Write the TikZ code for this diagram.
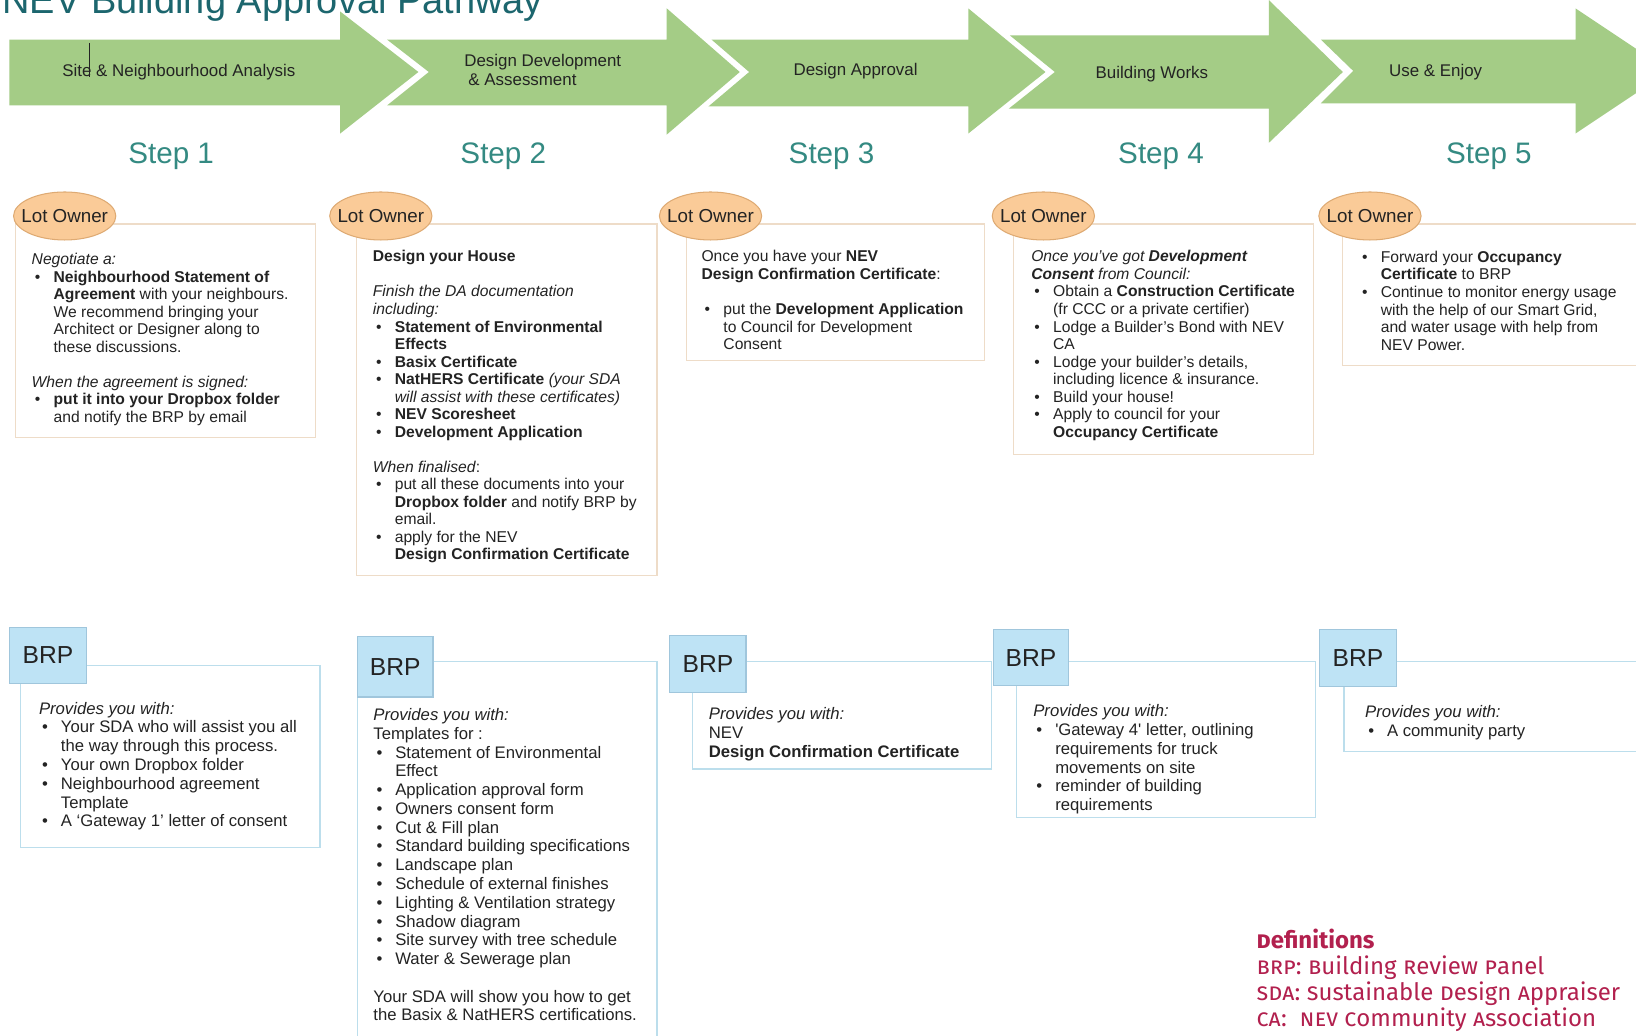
\documentclass[tikz,border=0pt]{standalone}
\usepackage{fontspec}
\setmainfont{Liberation Sans}
\newfontfamily\deffont[Letters=UppercaseSmallCaps]{Fira Sans}
\usetikzlibrary{shapes.geometric}
\definecolor{agreen}{RGB}{164,204,134}
\definecolor{titleteal}{RGB}{28,102,110}
\definecolor{stepteal}{RGB}{52,138,130}
\definecolor{txt}{RGB}{35,35,35}
\definecolor{loborder}{RGB}{238,220,200}
\definecolor{ellfill}{RGB}{250,203,152}
\definecolor{elldraw}{RGB}{222,170,115}
\definecolor{brpfill}{RGB}{190,227,245}
\definecolor{brpdraw}{RGB}{160,198,220}
\definecolor{brpborder}{RGB}{188,222,236}
\definecolor{defred}{RGB}{178,32,78}
\newcommand{\bul}[1]{\par\hangindent=10.5pt\hangafter=1\noindent\hbox to 10.5pt{\hspace{1.5pt}\textbullet\hss}#1\par}
\newcommand{\blankline}{\par\vspace{\baselineskip}}
\newcommand{\lotxt}[1]{\begin{minipage}[t]{170pt}\fontsize{7.5pt}{8.4pt}\selectfont\setlength{\rightskip}{0pt plus 1fil}#1\end{minipage}}
\newcommand{\brptxt}[1]{\begin{minipage}[t]{170pt}\fontsize{8pt}{9pt}\selectfont\setlength{\rightskip}{0pt plus 1fil}#1\end{minipage}}
\begin{document}
\begin{tikzpicture}[x=0.5pt,y=-0.5pt,
  arrowshape/.style={fill=agreen},
  arrlbl/.style={anchor=base, inner sep=0, text=txt, font=\fontsize{8.1pt}{8.75pt}\selectfont},
  steplbl/.style={anchor=base, inner sep=0, text=stepteal, font=\fontsize{14.2pt}{16pt}\selectfont},
  lobox/.style={rectangle, draw=loborder, line width=0.6pt, fill=white, inner sep=0, anchor=north west},
  brpbox/.style={rectangle, draw=brpborder, line width=0.6pt, fill=white, inner sep=0, anchor=north west},
  lotag/.style={ellipse, draw=elldraw, fill=ellfill, line width=0.5pt, minimum width=49pt, minimum height=23pt, inner sep=0},
  lotagtxt/.style={anchor=base, inner sep=0, text=txt, font=\fontsize{9pt}{10pt}\selectfont},
  brptag/.style={rectangle, draw=brpdraw, fill=brpfill, line width=0.5pt, inner sep=0, anchor=north west, text=txt, font=\fontsize{11.8pt}{14pt}\selectfont},
  boxtext/.style={anchor=base west, inner sep=0, text=txt}
]
\useasboundingbox (0,0) rectangle (1568,992);
\clip (0,0) rectangle (1568,992);
\fill[white] (0,0) rectangle (1568,992);

% title
\node[anchor=base west, inner sep=0, text=titleteal, font=\fontsize{18.2pt}{20pt}\selectfont] (title) at (2,13) {NEV Building Approval Pathway};

% arrows
\fill[arrowshape] (9,38) -- (326,38) -- (326,11) -- (401,69) -- (326,128) -- (326,101) -- (9,101) -- cycle;
\fill[arrowshape] (371,38) -- (639,38) -- (639,8) -- (709,69) -- (639,129) -- (639,101) -- (371,101) -- (411,69) -- cycle;
\fill[arrowshape] (682,38) -- (928,38) -- (928,8) -- (1002,69) -- (928,128) -- (928,102) -- (679,102) -- (718,69) -- cycle;
\fill[arrowshape] (968,34) -- (1216,34) -- (1216,0) -- (1287,69) -- (1216,137) -- (1216,104) -- (967,104) -- (1011,69) -- cycle;
\fill[arrowshape] (1266,38) -- (1510,38) -- (1510,8) -- (1600,68) -- (1510,128) -- (1510,99) -- (1266,99) -- (1297,68) -- cycle;

\node[arrlbl] (a1) at (171.5,73.5) {Site \& Neighbourhood Analysis};
\node[arrlbl, anchor=base west] (a2) at (444.6,64) {\begin{minipage}[t]{100pt}\fontsize{8.1pt}{8.75pt}\selectfont Design Development\\\hspace*{2pt}\& Assessment\end{minipage}};
\node[arrlbl] (a3) at (820,72.8) {Design Approval};
\node[arrlbl] (a4) at (1104,75) {Building Works};
\node[arrlbl] (a5) at (1376,73.5) {Use \& Enjoy};
\coordinate (cursorTop) at (85.6,41);
\coordinate (cursorBot) at (85.6,74);
\draw[txt, line width=0.5pt] (cursorTop) -- (cursorBot);

% steps
\node[steplbl] (s1) at (164,156.5) {Step 1};
\node[steplbl] (s2) at (482.4,156.5) {Step 2};
\node[steplbl] (s3) at (797,156.5) {Step 3};
\node[steplbl] (s4) at (1112.8,156.5) {Step 4};
\node[steplbl] (s5) at (1427,156.5) {Step 5};

% Lot owner boxes
\node[lobox, minimum width=144pt, minimum height=102.5pt] (lo1) at (14,214) {};
\node[lobox, minimum width=144pt, minimum height=168.5pt] (lo2) at (341,214) {};
\node[lobox, minimum width=143pt, minimum height=65.5pt] (lo3) at (657,214) {};
\node[lobox, minimum width=143.5pt, minimum height=110.5pt] (lo4) at (971,214) {};
\node[lobox, minimum width=157pt, minimum height=68pt] (lo5) at (1286,214) {};

\foreach \i/\x in {1/62,2/365,3/681,4/1000,5/1313}{
  \node[lotag] (e\i) at (\x,207) {};
  \node[lotagtxt] (et\i) at (\x,213) {Lot Owner};
}

\node[boxtext] (lt1) at (30,253.5) {\lotxt{%
\textit{Negotiate a:}
\bul{\textbf{Neighbourhood Statement of}\\\textbf{Agreement} with your neighbours.\\We recommend bringing your\\Architect or Designer along to\\these discussions.}
\blankline
\textit{When the agreement is signed:}
\bul{\textbf{put it into your Dropbox folder}\\and notify the BRP by email}}};

\node[boxtext] (lt2) at (357,251) {\lotxt{%
\textbf{Design your House}
\blankline
\textit{Finish the DA documentation\\including:}
\bul{\textbf{Statement of Environmental\\Effects}}
\bul{\textbf{Basix Certificate}}
\bul{\textbf{NatHERS Certificate} \textit{(your SDA\\will assist with these certificates)}}
\bul{\textbf{NEV Scoresheet}}
\bul{\textbf{Development Application}}
\blankline
\textit{When finalised}:
\bul{put all these documents into your\\\textbf{Dropbox folder} and notify BRP by\\email.}
\bul{apply for the NEV\\\textbf{Design Confirmation Certificate}}}};

\node[boxtext] (lt3) at (672,251) {\lotxt{%
Once you have your \textbf{NEV}\\\textbf{Design Confirmation Certificate}:
\blankline
\bul{put the \textbf{Development Application}\\to Council for Development\\Consent}}};

\node[boxtext] (lt4) at (988,251) {\lotxt{%
\textit{Once you've got \textbf{Development}\\\textbf{Consent} from Council:}
\bul{Obtain a \textbf{Construction Certificate}\\(fr CCC or a private certifier)}
\bul{Lodge a Builder's Bond with NEV\\CA}
\bul{Lodge your builder's details,\\including licence \& insurance.}
\bul{Build your house!}
\bul{Apply to council for your\\\textbf{Occupancy Certificate}}}};

\node[boxtext] (lt5) at (1302,251.5) {\lotxt{%
\bul{Forward your \textbf{Occupancy}\\\textbf{Certificate} to BRP}
\bul{Continue to monitor energy usage\\with the help of our Smart Grid,\\and water usage with help from\\NEV Power.}}};

% BRP boxes
\node[brpbox, minimum width=143.5pt, minimum height=87.25pt] (bb1) at (19,637) {};
\node[brpbox, minimum width=143.5pt, minimum height=200pt] (bb2) at (342,633.5) {};
\node[brpbox, minimum width=143.5pt, minimum height=51.5pt] (bb3) at (663,633.5) {};
\node[brpbox, minimum width=143.5pt, minimum height=74.75pt] (bb4) at (973.5,633.5) {};
\node[brpbox, minimum width=160pt, minimum height=43.25pt] (bb5) at (1287.5,633.5) {};

\node[brptag, minimum width=36.5pt, minimum height=26.75pt] (bl1) at (9,601) {BRP};
\node[brptag, minimum width=36.25pt, minimum height=29pt] (bl2) at (342,609.5) {BRP};
\node[brptag, minimum width=36.5pt, minimum height=27.2pt] (bl3) at (641.5,608.6) {BRP};
\node[brptag, minimum width=36.35pt, minimum height=26.75pt] (bl4) at (951.3,603) {BRP};
\node[brptag, minimum width=36.5pt, minimum height=27.25pt] (bl5) at (1264.5,603) {BRP};

\node[boxtext] (bt1) at (37,684.5) {\brptxt{%
\textit{Provides you with:}
\bul{Your SDA who will assist you all\\the way through this process.}
\bul{Your own Dropbox folder}
\bul{Neighbourhood agreement\\Template}
\bul{A `Gateway 1' letter of consent}}};

\node[boxtext] (bt2) at (357.5,690.5) {\brptxt{%
\textit{Provides you with:}\\Templates for :
\bul{Statement of Environmental\\Effect}
\bul{Application approval form}
\bul{Owners consent form}
\bul{Cut \& Fill plan}
\bul{Standard building specifications}
\bul{Landscape plan}
\bul{Schedule of external finishes}
\bul{Lighting \& Ventilation strategy}
\bul{Shadow diagram}
\bul{Site survey with tree schedule}
\bul{Water \& Sewerage plan}
\blankline
Your SDA will show you how to get\\the Basix \& NatHERS certifications.}};

\node[boxtext] (bt3) at (679,690) {\brptxt{%
\textit{Provides you with:}\\NEV\\\textbf{Design Confirmation Certificate}}};

\node[boxtext] (bt4) at (990,687) {\brptxt{%
\textit{Provides you with:}
\bul{\textquotesingle Gateway 4\textquotesingle\ letter, outlining\\requirements for truck\\movements on site}
\bul{reminder of building\\requirements}}};

\node[boxtext] (bt5) at (1308,688) {\brptxt{%
\textit{Provides you with:}
\bul{A community party}}};

% definitions
\node[anchor=base west, inner sep=0, text=defred] (defs) at (1204,909) {\begin{minipage}[t]{220pt}\deffont\fontsize{11.5pt}{12.5pt}\selectfont
\textbf{Definitions}\\BRP: Building Review Panel\\SDA: Sustainable Design Appraiser\\CA:\ \ NEV Community Association\end{minipage}};
\end{tikzpicture}
\end{document}
